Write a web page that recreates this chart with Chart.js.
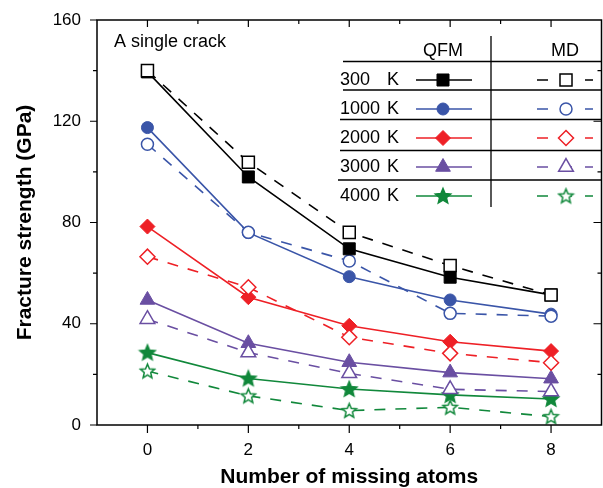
<!DOCTYPE html>
<html>
<head>
<meta charset="utf-8">
<script src="https://cdn.jsdelivr.net/npm/chart.js@4.4.1/dist/chart.umd.min.js"></script>
<style>
  html, body { margin: 0; padding: 0; background: #fff; }
  canvas { display: block; }
</style>
</head>
<body>
<canvas id="chart" width="603" height="488"></canvas>
<script>
// number of missing atoms
const xValues = [0, 2, 4, 6, 8];
const xTicks = [0, 2, 4, 6, 8];
const yTicks = [0, 40, 80, 120, 160];
const temps = ["300", "1000", "2000", "3000", "4000"];

// fracture strength (GPa)
const qfm300 = [139.5, 98.0, 69.6, 58.4, 51.4];
const md300 = [140.0, 103.8, 76.1, 63.0, 51.4];
const qfm1000 = [117.5, 76.0, 58.6, 49.4, 43.8];
const md1000 = [110.9, 76.1, 64.8, 44.1, 43.0];
const qfm2000 = [78.4, 50.5, 39.2, 32.9, 29.2];
const md2000 = [66.5, 54.4, 34.7, 28.3, 24.6];
const qfm3000 = [49.4, 32.3, 24.8, 20.7, 18.3];
const md3000 = [41.8, 28.6, 20.4, 14.1, 13.2];
const qfm4000 = [28.6, 18.4, 14.2, 11.9, 10.3];
const md4000 = [21.3, 11.5, 5.7, 7.0, 3.3];

const FONT = "'Liberation Sans', Arial, Helvetica, sans-serif";
const colors = ["#000000", "#3a55a8", "#ee2026", "#6a4fa2", "#11883b"];

// star marker as a small canvas
function makeStar(fill, stroke, r) {
  const c = document.createElement("canvas");
  const size = Math.ceil(2 * r + 4);
  c.width = size;
  c.height = size;
  const g = c.getContext("2d");
  const cx = size / 2, cy = size / 2 + 0.5;
  g.beginPath();
  for (let i = 0; i < 10; i++) {
    const a = -Math.PI / 2 + (i * Math.PI) / 5;
    const rr = i % 2 ? r * 0.45 : r;
    const px = cx + Math.cos(a) * rr, py = cy + Math.sin(a) * rr;
    if (i === 0) g.moveTo(px, py); else g.lineTo(px, py);
  }
  g.closePath();
  g.fillStyle = fill;
  g.fill();
  g.lineWidth = 1.5;
  g.strokeStyle = stroke;
  g.stroke();
  return c;
}

const starFilled = makeStar(colors[4], colors[4], 8);
const starOpen = makeStar("#fff", colors[4], 7.5);

const markers = [
  { style: "rect", r: 8.5 },
  { style: "circle", r: 6 },
  { style: "rectRot", r: 7.5 },
  { style: "triangle", r: 8.5 },
  { style: "star", r: 8 }
];

const qfmSeries = [qfm300, qfm1000, qfm2000, qfm3000, qfm4000];
const mdSeries = [md300, md1000, md2000, md3000, md4000];

const toPoints = (arr) => arr.map((v, i) => ({ x: xValues[i], y: v }));

const datasets = [];
temps.forEach((t, i) => {
  const m = markers[i];
  datasets.push({
    label: "MD " + t + " K",
    data: toPoints(mdSeries[i]),
    borderColor: colors[i],
    borderWidth: 1.6,
    borderDash: [11, 10],
    pointStyle: m.style === "star" ? starOpen : m.style,
    pointRadius: m.r,
    pointBorderWidth: 1.5,
    pointBorderColor: colors[i],
    pointBackgroundColor: "#fff",
    tension: 0
  });
  datasets.push({
    label: "QFM " + t + " K",
    data: toPoints(qfmSeries[i]),
    borderColor: colors[i],
    borderWidth: 1.6,
    pointStyle: m.style === "star" ? starFilled : m.style,
    pointRadius: m.r,
    pointBorderWidth: 1,
    pointBorderColor: colors[i],
    pointBackgroundColor: colors[i],
    tension: 0
  });
});

function drawMarker(ctx, style, x, y, r, fill, stroke, lw) {
  ctx.save();
  ctx.fillStyle = fill;
  ctx.strokeStyle = stroke;
  ctx.lineWidth = lw;
  ctx.beginPath();
  if (style === "circle") {
    ctx.arc(x, y, r, 0, Math.PI * 2);
  } else if (style === "rect") {
    const s = r * Math.SQRT1_2;
    ctx.rect(x - s, y - s, 2 * s, 2 * s);
  } else if (style === "rectRot") {
    ctx.moveTo(x, y - r);
    ctx.lineTo(x + r, y);
    ctx.lineTo(x, y + r);
    ctx.lineTo(x - r, y);
    ctx.closePath();
  } else if (style === "triangle") {
    for (let k = 0; k < 3; k++) {
      const a = (k * 2 * Math.PI) / 3;
      const px = x + Math.sin(a) * r, py = y - Math.cos(a) * r;
      if (k === 0) ctx.moveTo(px, py); else ctx.lineTo(px, py);
    }
    ctx.closePath();
  }
  ctx.fill();
  ctx.stroke();
  ctx.restore();
}

// frame, ticks, table legend and annotation
const framePlugin = {
  id: "frame",
  afterDraw(chart) {
    const { ctx, chartArea: a, scales } = chart;
    const xs = scales.x, ys = scales.y;
    ctx.save();
    ctx.strokeStyle = "#000";
    ctx.lineWidth = 1.5;
    ctx.strokeRect(a.left, a.top, a.right - a.left, a.bottom - a.top);

    ctx.lineWidth = 1.2;
    ctx.beginPath();
    for (let v = -1; v <= 9; v++) {
      const px = xs.getPixelForValue(v);
      if (px <= a.left + 1 || px >= a.right - 1) continue;
      const major = v % 2 === 0;
      const len = major ? 8 : 4;
      ctx.moveTo(px, a.bottom);
      ctx.lineTo(px, a.bottom + len);
      ctx.moveTo(px, a.top);
      ctx.lineTo(px, a.top + (major ? 7 : 4));
    }
    for (let v = 0; v <= 160; v += 20) {
      const py = ys.getPixelForValue(v);
      const major = v % 40 === 0;
      ctx.moveTo(a.left, py);
      ctx.lineTo(a.left - (major ? 7 : 4), py);
      if (py > a.top + 1 && py < a.bottom - 1) {
        ctx.moveTo(a.right, py);
        ctx.lineTo(a.right - (major ? 8 : 4), py);
      }
    }
    ctx.stroke();

    // annotation
    ctx.fillStyle = "#000";
    ctx.font = "18px " + FONT;
    ctx.textBaseline = "middle";
    ctx.textAlign = "left";
    ctx.fillText("A single crack", 114, 42);

    // table legend
    ctx.textAlign = "center";
    ctx.fillText("QFM", 443, 51);
    ctx.fillText("MD", 565, 51);

    ctx.lineWidth = 1.3;
    ctx.beginPath();
    ctx.moveTo(491, 36);
    ctx.lineTo(491, 207);
    const hLines = [[61.5, 343], [90, 343], [119.5, 340], [150.5, 340], [180, 338]];
    hLines.forEach(([y, x0]) => {
      ctx.moveTo(x0, y);
      ctx.lineTo(a.right, y);
    });
    ctx.stroke();

    const rowY = [80, 109, 138, 167, 196];
    temps.forEach((t, i) => {
      const y = rowY[i];
      const c = colors[i];
      const m = markers[i];
      ctx.fillStyle = "#000";
      ctx.textAlign = "left";
      ctx.fillText(t, 340, y);
      ctx.fillText("K", 387, y);

      ctx.strokeStyle = c;
      ctx.lineWidth = 1.6;
      ctx.setLineDash([]);
      ctx.beginPath();
      ctx.moveTo(416, y);
      ctx.lineTo(472, y);
      ctx.stroke();

      ctx.setLineDash([11, 13]);
      ctx.beginPath();
      ctx.moveTo(537, y);
      ctx.lineTo(593, y);
      ctx.stroke();
      ctx.setLineDash([]);

      if (m.style === "star") {
        ctx.drawImage(starFilled, 443 - starFilled.width / 2, y - starFilled.height / 2);
        ctx.drawImage(starOpen, 566 - starOpen.width / 2, y - starOpen.height / 2);
      } else {
        drawMarker(ctx, m.style, 443, y, m.r, c, c, 1);
        drawMarker(ctx, m.style, 566, y, m.r, "#fff", c, 1.5);
      }
    });
    ctx.restore();
  }
};

new Chart(document.getElementById("chart"), {
  type: "line",
  data: { datasets },
  options: {
    responsive: false,
    animation: false,
    layout: { autoPadding: false, padding: { top: 20, right: 1.5, left: 0, bottom: 0 } },
    plugins: { legend: { display: false }, tooltip: { enabled: false } },
    scales: {
      x: {
        type: "linear",
        min: -1,
        max: 9,
        afterBuildTicks: (s) => { s.ticks = xTicks.map((v) => ({ value: v })); },
        afterFit: (s) => { s.height = 63; s.paddingLeft = 0; s.paddingRight = 0; },
        grid: { display: false, drawTicks: false },
        border: { display: false },
        ticks: { padding: 15, color: "#000", font: { family: FONT, size: 17 } },
        title: {
          display: true,
          text: "Number of missing atoms",
          color: "#000",
          font: { family: FONT, size: 21, weight: "bold", lineHeight: 1 },
          padding: { top: 0, bottom: 0 }
        }
      },
      y: {
        min: 0,
        max: 160,
        afterBuildTicks: (s) => { s.ticks = yTicks.map((v) => ({ value: v })); },
        afterFit: (s) => { s.width = 97; s.paddingTop = 0; s.paddingBottom = 0; },
        grid: { display: false, drawTicks: false },
        border: { display: false },
        ticks: { padding: 16, color: "#000", font: { family: FONT, size: 17 } },
        title: {
          display: true,
          text: "Fracture strength (GPa)",
          color: "#000",
          font: { family: FONT, size: 21, weight: "bold", lineHeight: 1 },
          padding: { top: 14.5, bottom: 0 }
        }
      }
    }
  },
  plugins: [framePlugin]
});
</script>
</body>
</html>
